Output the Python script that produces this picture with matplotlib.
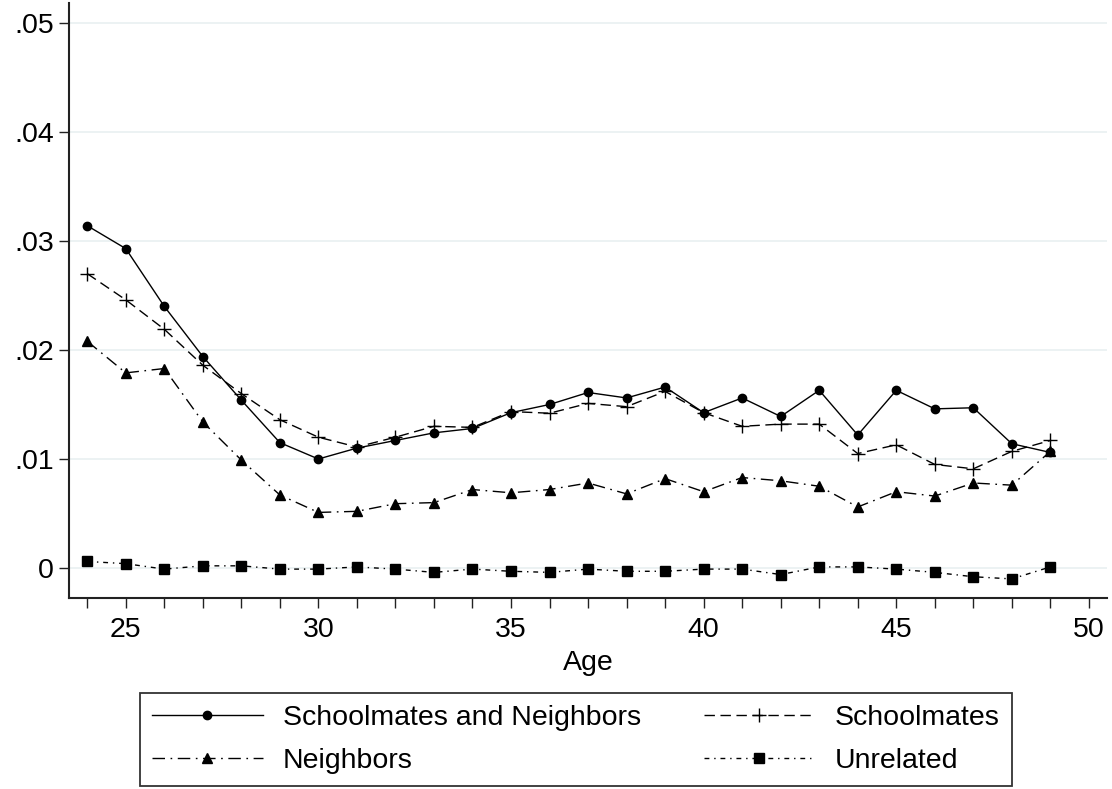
import numpy as np
import matplotlib
matplotlib.use("Agg")
import matplotlib.pyplot as plt

plt.rcParams['font.family'] = ['Liberation Sans', 'DejaVu Sans']
plt.rcParams['lines.scale_dashes'] = False

### Data
ages = list(range(24, 50))

both = [0.0314, 0.0293, 0.0240, 0.0194, 0.0154, 0.0115, 0.0100, 0.0110, 0.0117,
        0.0124, 0.0128, 0.01425, 0.0150, 0.0161, 0.0156, 0.0166, 0.01425, 0.0156,
        0.0139, 0.0163, 0.0122, 0.0163, 0.0146, 0.0147, 0.0114, 0.0106]

schoolmates = [0.0270, 0.0246, 0.0219, 0.0186, 0.0160, 0.0136, 0.0120, 0.0111, 0.0120,
               0.0130, 0.0129, 0.01435, 0.0142, 0.0151, 0.0148, 0.0162, 0.01425, 0.0130,
               0.0132, 0.0132, 0.0105, 0.0113, 0.0095, 0.0091, 0.0107, 0.0117]

neighbors = [0.0208, 0.0179, 0.0183, 0.0134, 0.0099, 0.0067, 0.0051, 0.0052, 0.0059,
             0.0060, 0.0072, 0.0069, 0.0072, 0.0078, 0.0068, 0.0082, 0.0070, 0.0083,
             0.0080, 0.0075, 0.0056, 0.0070, 0.0066, 0.0078, 0.0076, 0.0107]

unrelated = [0.0006, 0.0004, -0.0001, 0.0002, 0.0002, -0.0001, -0.0001, 0.0001, -0.0001,
             -0.0004, -0.0001, -0.0003, -0.0004, -0.0001, -0.0003, -0.0003, -0.0001, -0.0001,
             -0.0006, 0.0001, 0.0001, -0.0001, -0.0004, -0.0008, -0.0010, 0.0001]

labels = ['Schoolmates and Neighbors', 'Schoolmates', 'Neighbors', 'Unrelated']
yticks = [0, 0.01, 0.02, 0.03, 0.04, 0.05]
ytick_labels = ['0', '.01', '.02', '.03', '.04', '.05']
xticks_major = [25, 30, 35, 40, 45, 50]


fig = plt.figure(figsize=(11.12, 7.89), dpi=100)
ax = fig.add_axes([0.062, 0.2425, 0.9335, 0.7533])

# horizontal grid
for y in yticks:
    ax.axhline(y, color='#e9f0f1', lw=1.2, zorder=0)

lw = 1.0
l1, = ax.plot(ages, both, color='black', lw=lw, ls='-',
              marker='o', ms=6, label=labels[0])
l2, = ax.plot(ages, schoolmates, color='black', lw=lw, ls=(0, (7.5, 4)),
              marker='+', ms=10, mew=1.0, label=labels[1])
l3, = ax.plot(ages, neighbors, color='black', lw=lw, ls=(0, (9, 4, 1.2, 4)),
              marker='^', ms=7.5, label=labels[2])
l4, = ax.plot(ages, unrelated, color='black', lw=lw, ls=(0, (3.5, 3.5, 1, 3.5)),
              marker='s', ms=6.5, label=labels[3])

ax.set_xlim(23.525, 50.47)
ax.set_ylim(-0.00272, 0.0518)

ax.set_xticks(xticks_major)
ax.set_xticks(ages, minor=True)
ax.set_yticks(yticks)
ax.set_yticklabels(ytick_labels)

for side in ['top', 'right']:
    ax.spines[side].set_visible(False)
for side in ['left', 'bottom']:
    ax.spines[side].set_linewidth(1.5)
    ax.spines[side].set_color('#222222')

ax.tick_params(axis='both', which='both', direction='out', length=7,
               width=1.0, color='#222222', labelsize=20.5)
ax.tick_params(axis='x', which='major', pad=7)
ax.tick_params(axis='y', pad=4)

ax.set_xlabel('Age', fontsize=20.5, labelpad=5)

# legend filled row by row like the original
order = [l1, l3, l2, l4]
fig.legend(handles=order, labels=[h.get_label() for h in order], ncol=2,
           loc='upper left', bbox_to_anchor=(140 / 1112, 1 - 693 / 789),
           borderaxespad=0, fontsize=20.5, frameon=True, fancybox=False,
           edgecolor='black', handlelength=3.9, handletextpad=0.7,
           columnspacing=2.2, borderpad=0.42, labelspacing=0.6, numpoints=1)
leg = fig.legends[0]
leg.get_frame().set_linewidth(1.3)

plt.savefig('out.png', dpi=100)
plt.close()
